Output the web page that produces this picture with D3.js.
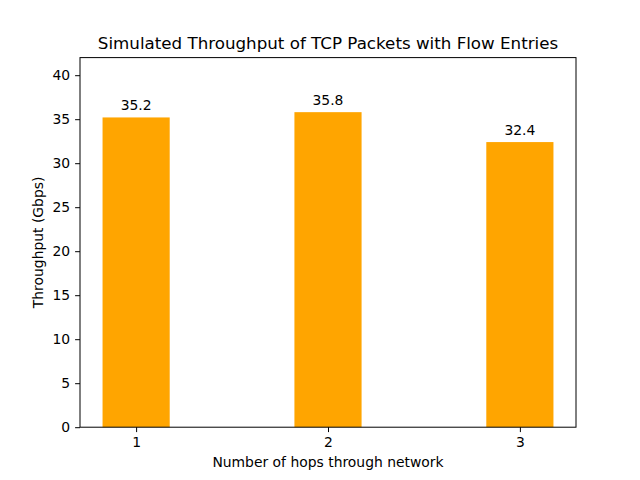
<!DOCTYPE html>
<html><head><meta charset="utf-8">
<script src="https://cdn.jsdelivr.net/npm/d3@7"></script>
<style>body{margin:0;background:#fff}svg{display:block}text{font-family:"DejaVu Sans",sans-serif}</style>
</head><body>
<script>
const categories = [1, 2, 3];
const values = [35.2, 35.8, 32.4];
const yTicks = [0, 5, 10, 15, 20, 25, 30, 35, 40];
const title = "Simulated Throughput of TCP Packets with Flow Entries";
const xLabel = "Number of hops through network";
const yLabel = "Throughput (Gbps)";

const W = 640, H = 480;
const m = {left: 80, right: 576, top: 57.6, bottom: 427.2};
const svg = d3.select("body").append("svg").attr("width", W).attr("height", H);

const barW = 0.35;
const x = d3.scaleLinear().domain([0.7075, 3.2925]).range([m.left, m.right]);
const y = d3.scaleLinear().domain([0, 42]).range([m.bottom, m.top]);

svg.selectAll("rect.bar").data(values).enter().append("rect")
  .attr("x", (d, i) => x(categories[i] - barW / 2))
  .attr("width", (d, i) => x(categories[i] + barW / 2) - x(categories[i] - barW / 2))
  .attr("y", d => y(d))
  .attr("height", d => y(0) - y(d))
  .attr("fill", "#FFA500");

svg.selectAll("text.val").data(values).enter().append("text")
  .attr("x", (d, i) => x(categories[i]))
  .attr("y", d => y(d) - 7)
  .attr("text-anchor", "middle")
  .attr("font-size", "13.9px")
  .text(d => d.toFixed(1));

const xAxis = d3.axisBottom(x).tickValues(categories).tickSize(4.9).tickPadding(4.9).tickFormat(d3.format("d"));
const yAxis = d3.axisLeft(y).tickValues(yTicks).tickSize(4.9).tickPadding(4.9);

const gx = svg.append("g").attr("transform", `translate(0,${m.bottom})`).call(xAxis);
const gy = svg.append("g").attr("transform", `translate(${m.left},0)`).call(yAxis);
[gx, gy].forEach(g => {
  g.select(".domain").remove();
  g.selectAll("text").attr("font-size", "13.9px").attr("fill", "#000").attr("font-family", "DejaVu Sans, sans-serif");
  g.selectAll("line").attr("stroke", "#000").attr("stroke-width", 1);
});

svg.append("rect").attr("x", m.left).attr("y", m.top)
  .attr("width", m.right - m.left).attr("height", m.bottom - m.top)
  .attr("fill", "none").attr("stroke", "#000").attr("stroke-width", 1);

svg.append("text").attr("x", (m.left + m.right) / 2).attr("y", m.top - 9)
  .attr("text-anchor", "middle").attr("font-size", "16.7px").text(title);
svg.append("text").attr("x", (m.left + m.right) / 2).attr("y", 467)
  .attr("text-anchor", "middle").attr("font-size", "13.9px").text(xLabel);
svg.append("text").attr("transform", `translate(43,${(m.top + m.bottom) / 2}) rotate(-90)`)
  .attr("text-anchor", "middle").attr("font-size", "13.9px").text(yLabel);
</script>
</body></html>
